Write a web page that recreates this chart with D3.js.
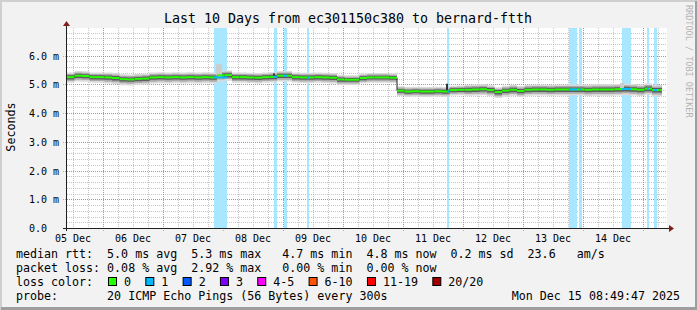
<!DOCTYPE html>
<html>
<head>
<meta charset="utf-8">
<script src="https://cdn.jsdelivr.net/npm/d3@7"></script>
<style>
body { margin: 0; background: #f2f2f2; }
text { font-family: "DejaVu Sans Mono", monospace; white-space: pre; }
</style>
</head>
<body>
<div id="chart"></div>
<script>
// Globals
var width = 697;
var height = 310;

var startTime = new Date("2025-12-05T09:36:00Z");
var endTime = new Date("2025-12-15T09:36:00Z");
var dataEnd = new Date("2025-12-15T07:36:00Z");
var STEP_HOURS = 3;

// median rtt in ms, one value every 3 hours from startTime
var medianRtt = [
	5.25, 5.30, 5.29, 5.25, 5.25, 5.24, 5.22, 5.18, 5.17, 5.19,
	5.20, 5.24, 5.25, 5.24, 5.25, 5.24, 5.25, 5.24, 5.25, 5.24,
	5.31, 5.32, 5.25, 5.25, 5.24, 5.23, 5.25, 5.26, 5.30, 5.30,
	5.25, 5.24, 5.24, 5.25, 5.24, 5.23, 5.17, 5.16, 5.16, 5.22,
	5.24, 5.24, 5.24, 5.23, 4.78, 4.75, 4.76, 4.75, 4.75, 4.76,
	4.75, 4.80, 4.81, 4.81, 4.82, 4.83, 4.80, 4.73, 4.78, 4.81,
	4.77, 4.81, 4.82, 4.82, 4.81, 4.82, 4.82, 4.82, 4.82, 4.81,
	4.82, 4.82, 4.82, 4.83, 4.84, 4.83, 4.81, 4.85, 4.80, 4.80
];

// half width of the smoke per day (ms), Dec 5 .. Dec 15
var smokeDays = ["2025-12-05", "2025-12-06", "2025-12-07", "2025-12-08", "2025-12-09", "2025-12-10", "2025-12-11", "2025-12-12", "2025-12-13", "2025-12-14", "2025-12-15"];
var smokeSpread = [0.18, 0.19, 0.19, 0.18, 0.18, 0.17, 0.17, 0.19, 0.19, 0.2, 0.2];

// periods with packet loss
var lossStart = ["2025-12-07T20:24Z", "2025-12-08T20:24Z", "2025-12-09T00:24Z", "2025-12-09T09:36Z", "2025-12-11T17:36Z", "2025-12-13T18:24Z", "2025-12-13T22:24Z", "2025-12-14T15:36Z", "2025-12-15T01:36Z", "2025-12-15T04:24Z"];
var lossEnd = ["2025-12-08T01:36Z", "2025-12-08T21:36Z", "2025-12-09T01:36Z", "2025-12-09T10:24Z", "2025-12-11T18:24Z", "2025-12-13T21:36Z", "2025-12-13T23:36Z", "2025-12-14T19:12Z", "2025-12-15T02:24Z", "2025-12-15T05:36Z"];
var lossCount = [1, 1, 1, 1, 1, 1, 1, 1, 1, 1];

// single ping outliers above the smoke
var spikeStart = ["2025-12-07T21:12Z", "2025-12-08T20:00Z", "2025-12-11T17:12Z", "2025-12-14T14:48Z"];
var spikeEnd = ["2025-12-07T23:36Z", "2025-12-08T20:48Z", "2025-12-11T18:00Z", "2025-12-14T16:24Z"];
var spikeTop = [5.7, 5.38, 5.02, 5.05];
var spikeDark = [false, true, true, false];

var yTicks = [0, 1, 2, 3, 4, 5, 6];
var yTickLabels = ["0.0  ", "1.0 m", "2.0 m", "3.0 m", "4.0 m", "5.0 m", "6.0 m"];

var lossLabels = ["0", "1", "2", "3", "4-5", "6-10", "11-19", "20/20"];
var lossColors = ["#26ff00", "#00b8ff", "#0059ff", "#7e00ff", "#ff00ff", "#ff5500", "#ff0000", "#a10000"];

var legendRows = [
	"median rtt:  5.0 ms avg  5.3 ms max   4.7 ms min  4.8 ms now  0.2 ms sd  23.6   am/s",
	"packet loss: 0.08 % avg  2.92 % max   0.00 % min  0.00 % now",
	"loss color:",
	"probe:       20 ICMP Echo Pings (56 Bytes) every 300s"
];
var stamp = "Mon Dec 15 08:49:47 2025";
var title = "Last 10 Days from ec301150c380 to bernard-ftth";

var svg = d3.select("#chart")
	.append("svg")
	.attr("width", width)
	.attr("height", height)
	.style("display", "block");

// frame
svg.append("rect").attr("x", 0).attr("y", 0).attr("width", width).attr("height", height).style("fill", "#f2f2f2");
svg.append("rect").attr("x", 0).attr("y", 0).attr("width", width).attr("height", 2).style("fill", "#cfcfcf");
svg.append("rect").attr("x", 0).attr("y", 0).attr("width", 2).attr("height", height).style("fill", "#cfcfcf");
svg.append("rect").attr("x", width - 2).attr("y", 1).attr("width", 2).attr("height", height).style("fill", "#9e9e9e");
svg.append("rect").attr("x", 1).attr("y", height - 3).attr("width", width).attr("height", 3).style("fill", "#9e9e9e");

var x = d3.scaleUtc().domain([startTime, endTime]).range([67, 667]);
var y = d3.scaleLinear().domain([0, 6.96]).range([228, 28]);
var plotLeft = 67, plotRight = 667, plotTop = 28, plotBottom = 228;

svg.append("rect").attr("x", plotLeft).attr("y", plotTop).attr("width", plotRight - plotLeft).attr("height", plotBottom - plotTop).style("fill", "#ffffff");

var grid = svg.append("g");
// minor grid
x.ticks(d3.utcHour.every(6)).forEach(function(t){
	var px = Math.round(x(t)) + 0.5;
	grid.append("line").attr("x1", px).attr("x2", px).attr("y1", plotTop).attr("y2", plotBottom)
		.style("stroke", "rgba(143,143,143,0.5)").style("stroke-dasharray", "1,1");
});
d3.range(0, 6.9, 0.2).forEach(function(v){
	var py = Math.round(y(v)) + 0.5;
	grid.append("line").attr("x1", plotLeft).attr("x2", plotRight).attr("y1", py).attr("y2", py)
		.style("stroke", "rgba(143,143,143,0.5)").style("stroke-dasharray", "1,1");
});
// major grid
x.ticks(d3.utcDay.every(1)).forEach(function(t){
	var px = Math.round(x(t)) + 0.5;
	grid.append("line").attr("x1", px).attr("x2", px).attr("y1", plotTop).attr("y2", plotBottom + 3)
		.style("stroke", "rgba(222,79,79,0.55)").style("stroke-dasharray", "1,1");
});
yTicks.forEach(function(v){
	var py = Math.round(y(v)) + 0.5;
	grid.append("line").attr("x1", plotLeft - 4).attr("x2", plotRight).attr("y1", py).attr("y2", py)
		.style("stroke", "rgba(222,79,79,0.55)").style("stroke-dasharray", "1,1");
});

// loss bands, full height, opaque so the grid does not show through
svg.selectAll(".lossband")
	.data(lossStart)
	.enter()
	.append("rect")
	.attr("x", (d, i) => x(new Date(d)))
	.attr("y", plotTop)
	.attr("width", (d, i) => x(new Date(lossEnd[i])) - x(new Date(d)))
	.attr("height", plotBottom - plotTop)
	.style("fill", (d, i) => d3.interpolateRgb("#ffffff", lossColors[lossCount[i]])(0.34));

var points = medianRtt.map(function(v, i){
	return { t: d3.utcHour.offset(startTime, i * STEP_HOURS), v: v };
});
points.push({ t: dataEnd, v: medianRtt[medianRtt.length - 1] });

function spreadAt(t) {
	var day = d3.utcFormat("%Y-%m-%d")(t);
	return smokeSpread[smokeDays.indexOf(day)];
}

// smoke
var smokeLayers = [[1.0, "#dadada"], [0.7, "#aaaaaa"], [0.4, "#5c5c5c"]];
smokeLayers.forEach(function(layer){
	var area = d3.area()
		.x(d => x(d.t))
		.y0(d => y(d.v - spreadAt(d.t) * layer[0] * 1.1))
		.y1(d => y(d.v + spreadAt(d.t) * layer[0] * 0.9))
		.curve(d3.curveStepAfter);
	svg.append("path").datum(points).attr("d", area).style("fill", layer[1]);
});

// outliers
svg.selectAll(".spike")
	.data(spikeStart)
	.enter()
	.append("rect")
	.attr("x", d => x(new Date(d)))
	.attr("width", (d, i) => Math.max(1, x(new Date(spikeEnd[i])) - x(new Date(d))))
	.attr("y", (d, i) => y(spikeTop[i]))
	.attr("height", function(d, i){
		var idx = Math.floor((new Date(d) - startTime) / 36e5 / STEP_HOURS);
		return y(medianRtt[idx]) - y(spikeTop[i]);
	})
	.style("fill", (d, i) => spikeDark[i] ? "#333333" : "#cccccc");

// dark step line under the median
var stepLine = d3.line().x(d => x(d.t)).y(d => y(d.v)).curve(d3.curveStepAfter);
svg.append("path").datum(points).attr("d", stepLine)
	.style("fill", "none").style("stroke", "#222").style("stroke-width", 1);

// median, coloured by loss (horizontal pieces only)
svg.selectAll(".median")
	.data(points.slice(0, -1))
	.enter()
	.append("line")
	.attr("x1", d => x(d.t))
	.attr("x2", (d, i) => x(points[i + 1].t))
	.attr("y1", d => y(d.v))
	.attr("y2", d => y(d.v))
	.style("stroke", lossColors[0])
	.style("stroke-width", 2);

function medianAt(d) {
	var idx = Math.floor((new Date(d) - startTime) / 36e5 / STEP_HOURS);
	return y(medianRtt[idx]);
}

svg.selectAll(".medianloss")
	.data(lossStart)
	.enter()
	.append("line")
	.attr("x1", d => x(new Date(d)))
	.attr("x2", (d, i) => x(new Date(lossEnd[i])))
	.attr("y1", d => medianAt(d))
	.attr("y2", d => medianAt(d))
	.style("stroke", (d, i) => lossColors[lossCount[i]])
	.style("stroke-width", 2);

// axes
svg.append("line").attr("x1", plotLeft - 4).attr("x2", 670).attr("y1", plotBottom + 0.5).attr("y2", plotBottom + 0.5)
	.style("stroke", "#1f1f1f");
svg.append("line").attr("x1", plotLeft - 0.5).attr("x2", plotLeft - 0.5).attr("y1", plotBottom + 3).attr("y2", 25)
	.style("stroke", "#1f1f1f");
svg.append("path").attr("d", "M669,225 L674,228.5 L669,232 Z").style("fill", "#801f1f");
svg.append("path").attr("d", "M63,26 L66.5,21 L70,26 Z").style("fill", "#801f1f");

svg.selectAll(".ylab")
	.data(yTicks)
	.enter()
	.append("text")
	.attr("x", 29)
	.attr("y", d => y(d) + 4)
	.attr("font-size", "10px")
	.text((d, i) => yTickLabels[i]);

svg.selectAll(".xlab")
	.data(x.ticks(d3.utcDay.every(1)).map(t => d3.utcHour.offset(t, -12)).filter(t => x(t) > plotLeft))
	.enter()
	.append("text")
	.attr("x", d => x(d))
	.attr("y", 242)
	.attr("text-anchor", "middle")
	.attr("font-size", "10px")
	.text(d => d3.utcFormat("%d %b")(d));

svg.append("text")
	.attr("x", 348)
	.attr("y", 23)
	.attr("text-anchor", "middle")
	.attr("font-size", "13.3px")
	.text(title);

svg.append("text")
	.attr("transform", "translate(15,127) rotate(-90)")
	.attr("text-anchor", "middle")
	.attr("font-size", "11.7px")
	.text("Seconds");

svg.append("text")
	.attr("transform", "translate(686,5) rotate(90)")
	.attr("font-size", "8.5px")
	.style("fill", "#b4b4b4")
	.text("RRDTOOL / TOBI OETIKER");

// legend
var legendSize = 11.65;
legendRows.forEach(function(row, i){
	svg.append("text")
		.attr("x", 16)
		.attr("y", 258 + i * 14)
		.attr("font-size", legendSize + "px")
		.text(row);
});
svg.append("text")
	.attr("x", 680)
	.attr("y", 300)
	.attr("text-anchor", "end")
	.attr("font-size", legendSize + "px")
	.text(stamp);

var charW = legendSize * 0.602;
var lx = 108;
lossLabels.forEach(function(lbl, i){
	svg.append("rect")
		.attr("x", lx + 0.5)
		.attr("y", 277.5)
		.attr("width", 8)
		.attr("height", 8)
		.style("fill", lossColors[i])
		.style("stroke", "#000");
	svg.append("text")
		.attr("x", lx + 16)
		.attr("y", 286)
		.attr("font-size", legendSize + "px")
		.text(lbl);
	lx = lx + 16 + lbl.length * charW + 14.3;
});
</script>
</body>
</html>
